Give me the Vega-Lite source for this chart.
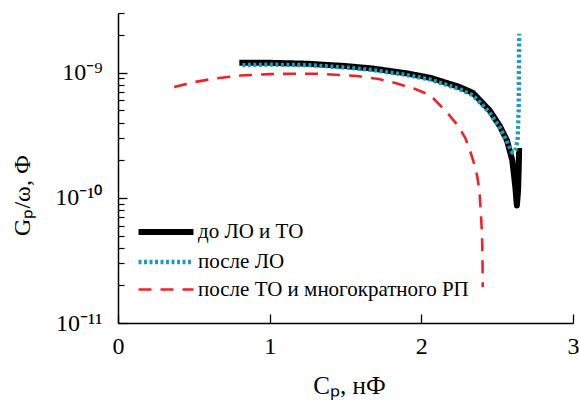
{
  "$schema": "https://vega.github.io/schema/vega-lite/v6.json",
  "width": 455,
  "height": 310,
  "autosize": "none",
  "padding": {"left": 118, "top": 13, "right": 6, "bottom": 79},
  "background": "white",
  "config": {
    "view": {"stroke": null},
    "font": "Liberation Serif, Times New Roman, serif"
  },
  "data": {
    "values": [
      {"series": "до ЛО и ТО", "i": 1, "c": 0.80, "g": 1.20e-9},
      {"series": "до ЛО и ТО", "i": 2, "c": 1.00, "g": 1.20e-9},
      {"series": "до ЛО и ТО", "i": 3, "c": 1.25, "g": 1.18e-9},
      {"series": "до ЛО и ТО", "i": 4, "c": 1.50, "g": 1.13e-9},
      {"series": "до ЛО и ТО", "i": 5, "c": 1.68, "g": 1.08e-9},
      {"series": "до ЛО и ТО", "i": 6, "c": 1.90, "g": 9.9e-10},
      {"series": "до ЛО и ТО", "i": 7, "c": 2.06, "g": 9.1e-10},
      {"series": "до ЛО и ТО", "i": 8, "c": 2.125, "g": 8.6e-10},
      {"series": "до ЛО и ТО", "i": 9, "c": 2.25, "g": 7.7e-10},
      {"series": "до ЛО и ТО", "i": 10, "c": 2.34, "g": 6.9e-10},
      {"series": "до ЛО и ТО", "i": 11, "c": 2.45, "g": 5.0e-10},
      {"series": "до ЛО и ТО", "i": 12, "c": 2.52, "g": 3.7e-10},
      {"series": "до ЛО и ТО", "i": 13, "c": 2.565, "g": 2.87e-10},
      {"series": "до ЛО и ТО", "i": 14, "c": 2.60, "g": 1.99e-10},
      {"series": "до ЛО и ТО", "i": 15, "c": 2.62, "g": 1.21e-10},
      {"series": "до ЛО и ТО", "i": 16, "c": 2.63, "g": 8.7e-11},
      {"series": "до ЛО и ТО", "i": 17, "c": 2.638, "g": 1.15e-10},
      {"series": "до ЛО и ТО", "i": 18, "c": 2.642, "g": 1.7e-10},
      {"series": "до ЛО и ТО", "i": 19, "c": 2.645, "g": 2.5e-10},
      {"series": "после ЛО", "i": 1, "c": 0.82, "g": 1.15e-9},
      {"series": "после ЛО", "i": 2, "c": 1.00, "g": 1.16e-9},
      {"series": "после ЛО", "i": 3, "c": 1.25, "g": 1.15e-9},
      {"series": "после ЛО", "i": 4, "c": 1.50, "g": 1.10e-9},
      {"series": "после ЛО", "i": 5, "c": 1.68, "g": 1.05e-9},
      {"series": "после ЛО", "i": 6, "c": 1.90, "g": 9.6e-10},
      {"series": "после ЛО", "i": 7, "c": 2.06, "g": 8.8e-10},
      {"series": "после ЛО", "i": 8, "c": 2.25, "g": 7.4e-10},
      {"series": "после ЛО", "i": 9, "c": 2.34, "g": 6.6e-10},
      {"series": "после ЛО", "i": 10, "c": 2.45, "g": 4.8e-10},
      {"series": "после ЛО", "i": 11, "c": 2.52, "g": 3.6e-10},
      {"series": "после ЛО", "i": 12, "c": 2.565, "g": 2.8e-10},
      {"series": "после ЛО", "i": 13, "c": 2.60, "g": 2.3e-10},
      {"series": "после ЛО", "i": 14, "c": 2.62, "g": 2.4e-10},
      {"series": "после ЛО", "i": 15, "c": 2.635, "g": 2.9e-10},
      {"series": "после ЛО", "i": 16, "c": 2.642, "g": 5.2e-10},
      {"series": "после ЛО", "i": 17, "c": 2.645, "g": 2.05e-9},
      {"series": "после ТО и многократного РП", "i": 1, "c": 0.37, "g": 7.7e-10},
      {"series": "после ТО и многократного РП", "i": 2, "c": 0.50, "g": 8.4e-10},
      {"series": "после ТО и многократного РП", "i": 3, "c": 0.63, "g": 8.95e-10},
      {"series": "после ТО и многократного РП", "i": 4, "c": 0.81, "g": 9.5e-10},
      {"series": "после ТО и многократного РП", "i": 5, "c": 1.00, "g": 9.75e-10},
      {"series": "после ТО и многократного РП", "i": 6, "c": 1.14, "g": 9.8e-10},
      {"series": "после ТО и многократного РП", "i": 7, "c": 1.32, "g": 9.8e-10},
      {"series": "после ТО и многократного РП", "i": 8, "c": 1.58, "g": 9.4e-10},
      {"series": "после ТО и многократного РП", "i": 9, "c": 1.72, "g": 8.9e-10},
      {"series": "после ТО и многократного РП", "i": 10, "c": 1.84, "g": 8.2e-10},
      {"series": "после ТО и многократного РП", "i": 11, "c": 1.96, "g": 7.4e-10},
      {"series": "после ТО и многократного РП", "i": 12, "c": 2.06, "g": 6.6e-10},
      {"series": "после ТО и многократного РП", "i": 13, "c": 2.17, "g": 4.8e-10},
      {"series": "после ТО и многократного РП", "i": 14, "c": 2.24, "g": 3.8e-10},
      {"series": "после ТО и многократного РП", "i": 15, "c": 2.29, "g": 3.0e-10},
      {"series": "после ТО и многократного РП", "i": 16, "c": 2.32, "g": 2.4e-10},
      {"series": "после ТО и многократного РП", "i": 17, "c": 2.35, "g": 1.85e-10},
      {"series": "после ТО и многократного РП", "i": 18, "c": 2.37, "g": 1.46e-10},
      {"series": "после ТО и многократного РП", "i": 19, "c": 2.385, "g": 1.05e-10},
      {"series": "после ТО и многократного РП", "i": 20, "c": 2.39, "g": 8.4e-11},
      {"series": "после ТО и многократного РП", "i": 21, "c": 2.40, "g": 5.2e-11},
      {"series": "после ТО и многократного РП", "i": 22, "c": 2.403, "g": 3.4e-11},
      {"series": "после ТО и многократного РП", "i": 23, "c": 2.405, "g": 1.94e-11}
    ]
  },
  "resolve": {"axis": {"x": "independent", "y": "independent"}},
  "layer": [
    {
      "mark": {"type": "line", "strokeCap": "butt", "strokeJoin": "round", "interpolate": "linear", "clip": true},
      "encoding": {
        "x": {
          "field": "c", "type": "quantitative",
          "scale": {"domain": [0, 3], "nice": false, "zero": false},
          "axis": {
            "orient": "bottom", "zindex": 1,
            "values": [0, 1, 2, 3],
            "title": "Cₚ, нФ",
            "titleFont": "Liberation Serif, Times New Roman, serif", "titleFontSize": 25, "titleFontWeight": "normal", "titleColor": "black",
            "titleX": 231, "titleY": 62, "titleBaseline": "middle", "titleAlign": "center",
            "labelFont": "Liberation Serif, Times New Roman, serif", "labelFontSize": 24, "labelColor": "black",
            "labelPadding": 11, "labelFlush": false,
            "ticks": false, "tickSize": 0,
            "domainColor": "black", "domainWidth": 1.5, "grid": false
          }
        },
        "y": {
          "field": "g", "type": "quantitative",
          "scale": {"type": "log", "domain": [1e-11, 3e-9], "nice": false},
          "axis": {
            "orient": "left", "zindex": 1,
            "values": [1e-11, 1e-10, 1e-9],
            "labelExpr": "abs(datum.value - 1e-9) < 1e-12 ? '10⁻⁹' : abs(datum.value - 1e-10) < 1e-13 ? '10⁻¹⁰' : '10⁻¹¹'",
            "title": "Gₚ/ω, Ф",
            "titleFont": "Liberation Serif, Times New Roman, serif", "titleFontSize": 24, "titleFontWeight": "normal", "titleColor": "black",
            "titleX": -96, "titleY": 182, "titleBaseline": "middle", "titleAlign": "center", "titleAngle": -90,
            "labelFont": "Liberation Serif, Times New Roman, serif", "labelFontSize": 24, "labelColor": "black",
            "labelPadding": 16, "labelFlush": false, "labelOverlap": false,
            "ticks": false, "tickSize": 0,
            "domainColor": "black", "domainWidth": 1.5, "grid": false
          }
        },
        "order": {"field": "i", "type": "quantitative"},
        "color": {
          "field": "series", "type": "nominal",
          "scale": {"domain": ["до ЛО и ТО", "после ЛО", "после ТО и многократного РП"], "range": ["#000000", "#1f9db8", "#ee2229"]},
          "legend": {
            "title": null, "orient": "none", "legendX": 31, "legendY": 202,
            "symbolType": "M-2,0H2", "symbolSize": 756,
            "labelFont": "Liberation Serif, Times New Roman, serif", "labelFontSize": 21, "labelColor": "black", "labelLimit": 0,
            "labelOffset": 15, "rowPadding": 2, "padding": 0
          }
        },
        "strokeDash": {
          "field": "series", "type": "nominal",
          "scale": {"domain": ["до ЛО и ТО", "после ЛО", "после ТО и многократного РП"], "range": [[1, 0], [3, 2.5], [13, 9]]},
          "legend": {
            "title": null, "orient": "none", "legendX": 31, "legendY": 202,
            "symbolType": "M-2,0H2", "symbolSize": 756,
            "labelFont": "Liberation Serif, Times New Roman, serif", "labelFontSize": 21, "labelColor": "black", "labelLimit": 0,
            "labelOffset": 15, "rowPadding": 2, "padding": 0
          }
        },
        "strokeWidth": {
          "field": "series", "type": "nominal",
          "scale": {"domain": ["до ЛО и ТО", "после ЛО", "после ТО и многократного РП"], "range": [6, 2.6, 3]},
          "legend": {
            "title": null, "orient": "none", "legendX": 31, "legendY": 202,
            "symbolType": "M-2,0H2", "symbolSize": 756,
            "labelFont": "Liberation Serif, Times New Roman, serif", "labelFontSize": 21, "labelColor": "black", "labelLimit": 0,
            "labelOffset": 15, "rowPadding": 2, "padding": 0
          }
        }
      }
    },
    {
      "mark": {"type": "line", "opacity": 0},
      "encoding": {
        "x": {
          "field": "c", "type": "quantitative",
          "axis": {
            "orient": "bottom", "zindex": 1, "values": [0, 1, 2, 3], "offset": -9, "tickSize": 9, "ticks": true,
            "tickColor": "black", "tickWidth": 1.3, "tickOpacity": 1, "domain": false, "labels": false, "title": null, "grid": false
          }
        },
        "y": {
          "field": "g", "type": "quantitative",
          "axis": {
            "orient": "left", "zindex": 1, "values": [1e-11, 1e-10, 1e-9], "offset": -9, "tickSize": 9, "ticks": true,
            "tickColor": "black", "tickWidth": 1.3, "tickOpacity": 1, "domain": false, "labels": false, "title": null, "grid": false
          }
        },
        "detail": {"field": "series", "type": "nominal"}
      }
    },
    {
      "mark": {"type": "line", "opacity": 0},
      "encoding": {
        "x": {"field": "c", "type": "quantitative", "axis": null},
        "y": {
          "field": "g", "type": "quantitative",
          "axis": {
            "orient": "left", "zindex": 1,
            "values": [2e-11, 3e-11, 4e-11, 5e-11, 6e-11, 7e-11, 8e-11, 9e-11, 2e-10, 3e-10, 4e-10, 5e-10, 6e-10, 7e-10, 8e-10, 9e-10, 2e-9, 3e-9],
            "offset": -6, "tickSize": 6, "ticks": true,
            "tickColor": "black", "tickWidth": 1.2, "tickOpacity": 1, "domain": false, "labels": false, "title": null, "grid": false
          }
        },
        "detail": {"field": "series", "type": "nominal"}
      }
    }
  ]
}
